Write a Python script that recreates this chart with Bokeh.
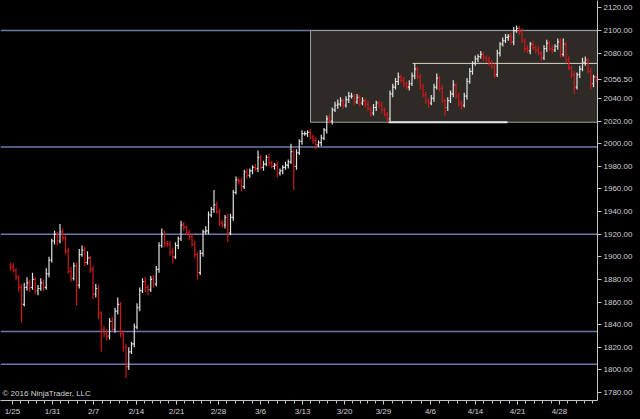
from bokeh.plotting import figure
from bokeh.models import Range1d, FixedTicker, PrintfTickFormatter, Label, ColumnDataSource
from bokeh.embed import file_html
from bokeh.resources import INLINE

# ---------------- data ----------------
closes = [
    1891, 1888, 1882, 1873, 1858, 1873, 1877, 1873, 1880, 1870, 1872, 1877, 1873, 1885, 1897, 1914, 1920, 1914, 1922, 1917,
    1905, 1887, 1881, 1892, 1875, 1902, 1906, 1895, 1899, 1889, 1867, 1872, 1850, 1836, 1832, 1830, 1843, 1836, 1852, 1858,
    1832, 1820, 1803, 1816, 1823, 1838, 1855, 1870, 1878, 1873, 1871, 1880, 1876, 1889, 1910, 1920, 1912, 1911, 1904, 1900,
    1910, 1916, 1928, 1926, 1921, 1918, 1911, 1902, 1886, 1903, 1922, 1923, 1937, 1942, 1946, 1940, 1930, 1928, 1935, 1921,
    1935, 1957, 1968, 1967, 1962, 1975, 1972, 1976, 1979, 1978, 1988, 1979, 1982, 1988, 1983, 1980, 1981, 1974, 1976, 1979,
    1981, 1984, 1993, 1980, 1992, 2002, 2009, 2009, 2010, 2006, 2003, 1999, 2001, 2005, 2012, 2022, 2020, 2030, 2034, 2035,
    2038, 2034, 2039, 2042, 2042, 2037, 2041, 2036, 2038, 2035, 2031, 2027, 2032, 2036, 2034, 2030, 2026, 2022, 2044, 2050,
    2055, 2059, 2056, 2053, 2050, 2053, 2060, 2066, 2059, 2051, 2043, 2038, 2036, 2040, 2050, 2058, 2049, 2038, 2032, 2038,
    2044, 2052, 2042, 2036, 2034, 2042, 2055, 2064, 2071, 2075, 2077, 2079, 2076, 2074, 2072, 2068, 2061, 2080, 2088, 2091,
    2094, 2095, 2090, 2100, 2102, 2099, 2091, 2084, 2082, 2088, 2085, 2083, 2080, 2076, 2084, 2089, 2084, 2083, 2086, 2090,
    2079, 2088, 2074, 2067, 2061, 2050, 2061, 2066, 2072, 2074, 2064, 2053, 2059, 2056.5,
]
first_open = 1893
high_ext = [
    2, 3, 2, 2, 3, 4, 5, 3, 6, 2, 3, 4, 3, 5, 3, 2, 3, 2, 7, 3,
    2, 3, 4, 3, 3, 5, 4, 3, 6, 2, 3, 4, 3, 2, 3, 4, 3, 4, 3, 6,
    2, 3, 3, 4, 2, 3, 4, 3, 3, 4, 2, 3, 4, 3, 3, 5, 3, 2, 3, 4,
    3, 2, 4, 3, 2, 3, 2, 3, 2, 3, 2, 4, 3, 2, 13, 3, 2, 3, 2, 3,
    3, 2, 3, 2, 3, 2, 3, 2, 2, 3, 6, 2, 3, 2, 3, 2, 2, 3, 2, 2,
    3, 2, 7, 2, 3, 2, 3, 2, 2, 3, 2, 3, 2, 3, 2, 3, 4, 2, 3, 4,
    3, 2, 3, 4, 3, 2, 3, 2, 3, 2, 3, 2, 3, 2, 2, 3, 2, 2, 3, 3,
    3, 4, 2, 3, 2, 3, 3, 5, 2, 3, 2, 3, 2, 3, 3, 4, 2, 3, 2, 3,
    3, 4, 2, 3, 2, 3, 3, 3, 2, 3, 2, 3, 2, 2, 3, 2, 3, 3, 2, 3,
    3, 2, 3, 3, 2.5, 2, 3, 2, 3, 2, 3, 2, 3, 2, 3, 3, 2, 3, 2, 3,
    3, 5, 2, 3, 2, 3, 2, 3, 4, 3, 2, 3, 2, 1,
]
low_ext = [
    3, 2, 3, 4, 16, 2, 3, 4, 2, 3, 4, 2, 3, 2, 3, 2, 3, 4, 2, 3,
    3, 2, 3, 2, 18, 3, 2, 3, 2, 3, 4, 3, 5, 20, 3, 4, 3, 2, 3, 3,
    3, 4, 10, 3, 2, 3, 2, 3, 2, 4, 5, 2, 3, 2, 3, 2, 3, 2, 3, 6,
    2, 3, 2, 3, 2, 3, 2, 3, 6, 2, 3, 2, 3, 2, 3, 2, 3, 2, 3, 8,
    2, 3, 2, 3, 4, 2, 3, 2, 3, 2, 3, 2, 3, 2, 3, 2, 3, 4, 2, 3,
    2, 3, 2, 21, 3, 2, 3, 2, 3, 2, 3, 4, 2, 3, 2, 3, 2, 3, 2, 3,
    2, 3, 2, 3, 2, 3, 2, 3, 2, 3, 2, 3, 2, 3, 2, 3, 2, 3, 2, 3,
    2, 3, 2, 3, 2, 3, 2, 3, 2, 3, 2, 3, 4, 2, 3, 2, 3, 2, 7, 3,
    2, 3, 2, 3, 4, 2, 3, 2, 3, 2, 3, 2, 3, 2, 3, 2, 3, 2, 3, 2,
    2, 3, 2, 3, 2, 3, 2, 3, 2, 3, 2, 3, 2, 3, 2, 3, 2, 3, 2, 3,
    3, 2, 3, 2, 3, 6, 2, 3, 2, 3, 2, 5, 3, 2,
]

date_labels = ["1/25", "1/31", "2/7", "2/14", "2/21", "2/28", "3/6", "3/13",
               "3/20", "3/29", "4/6", "4/14", "4/21", "4/28"]
date_bar_pos = [0.7, 15.3, 30.2, 45.8, 60.4, 75.6, 90.9, 106.2,
                121.5, 135.6, 152.7, 169.1, 184.4, 199.6]
price_ticks = [1780, 1800, 1820, 1840, 1860, 1880, 1900, 1920, 1940, 1960,
               1980, 2000, 2020, 2040, 2080, 2100, 2120]

level_lines = [2100, 1997, 1920, 1834, 1805]
zone_top, zone_bottom, zone_start_bar = 2100, 2019, 109.1
zone_mid_level, zone_mid_start_bar = 2071, 146.2
zone_low_start_bar, zone_low_end_bar = 137.5, 180.7
last_price = 2056.50
copyright_text = "\u00a9 2016 NinjaTrader, LLC"

# ---------------- build ----------------
n = min(len(closes), len(high_ext), len(low_ext))
idx = list(range(n))
opens = [first_open] + closes[:n - 1]
highs = [max(opens[i], closes[i]) + high_ext[i] for i in idx]
lows = [min(opens[i], closes[i]) - low_ext[i] for i in idx]
up_col, dn_col = "#e2e2e2", "#d01818"
cols = [up_col if closes[i] >= opens[i] else dn_col for i in idx]

x0, x1 = -3.64, 213.45
p = figure(width=640, height=419, output_backend="svg", toolbar_location=None,
           x_range=Range1d(x0, x1), y_range=Range1d(1773.0, 2126.6),
           y_axis_location="right",
           background_fill_color="black", border_fill_color="black",
           min_border_left=0, min_border_top=0, min_border_right=43, min_border_bottom=19,
           outline_line_color=None)
p.grid.visible = False

# horizontal level lines
p.segment(x0=[x0] * len(level_lines), x1=[x1] * len(level_lines), y0=level_lines, y1=level_lines,
          line_color="#6c7aaa", line_width=1.5)

# zone rectangle
p.quad(left=[zone_start_bar], right=[x1 + 5], top=[zone_top], bottom=[zone_bottom],
       fill_color="#2e2a26", line_color="#a0a0a0", line_width=1)
p.segment(x0=[zone_mid_start_bar], x1=[x1], y0=[zone_mid_level], y1=[zone_mid_level],
          line_color="#d8d4c4", line_width=1)
p.segment(x0=[zone_low_start_bar], x1=[zone_low_end_bar], y0=[zone_bottom], y1=[zone_bottom],
          line_color="#e8e8e8", line_width=2)

# OHLC bars
src = ColumnDataSource(dict(
    x=idx, xl=[i - 0.45 for i in idx], xr=[i + 0.45 for i in idx],
    o=opens, h=highs, l=lows, c=closes[:n], col=cols))
p.segment(x0="x", x1="x", y0="l", y1="h", line_color="col", line_width=1.2, source=src)
p.segment(x0="xl", x1="x", y0="o", y1="o", line_color="col", line_width=1.2, source=src)
p.segment(x0="x", x1="xr", y0="c", y1="c", line_color="col", line_width=1.2, source=src)

# axes
axis_col = "#c4c4c4"
for ax in (p.xaxis[0], p.yaxis[0]):
    ax.axis_line_color = axis_col
    ax.major_tick_line_color = axis_col
    ax.minor_tick_line_color = axis_col
    ax.major_label_text_color = "#d0d0d0"
    ax.major_label_text_font = "Liberation Sans"
    ax.major_label_text_font_size = "8px"
    ax.major_tick_in = 0
    ax.major_tick_out = 4
    ax.minor_tick_in = 0
    ax.minor_tick_out = 3
    ax.major_label_standoff = 2

p.yaxis.ticker = FixedTicker(ticks=price_ticks + [last_price])
p.yaxis.formatter = PrintfTickFormatter(format="%.2f")
p.yaxis.major_label_overrides = {last_price: "%.2f" % last_price}
p.yaxis.minor_tick_line_color = None

minor = []
for a, b in zip(date_bar_pos[:-1], date_bar_pos[1:]):
    for j in range(1, 5):
        minor.append(a + (b - a) * j / 5)
step = (date_bar_pos[-1] - date_bar_pos[-2]) / 5
for j in range(1, 5):
    minor.append(date_bar_pos[-1] + step * j)
p.xaxis.ticker = FixedTicker(ticks=date_bar_pos, minor_ticks=minor)
p.xaxis.major_label_overrides = {pos: lab for pos, lab in zip(date_bar_pos, date_labels)}

# texts
p.add_layout(Label(x=x0, y=1779, x_offset=2, text=copyright_text, text_color="#d4d4d4",
                   text_font="Liberation Sans", text_font_size="8px", text_baseline="middle"))

html = file_html(p, INLINE)
html = html.replace("<head>", "<head><style>html,body{margin:0;padding:0;background:#000;overflow:hidden}</style>", 1)
open("out.html", "w").write(html)
